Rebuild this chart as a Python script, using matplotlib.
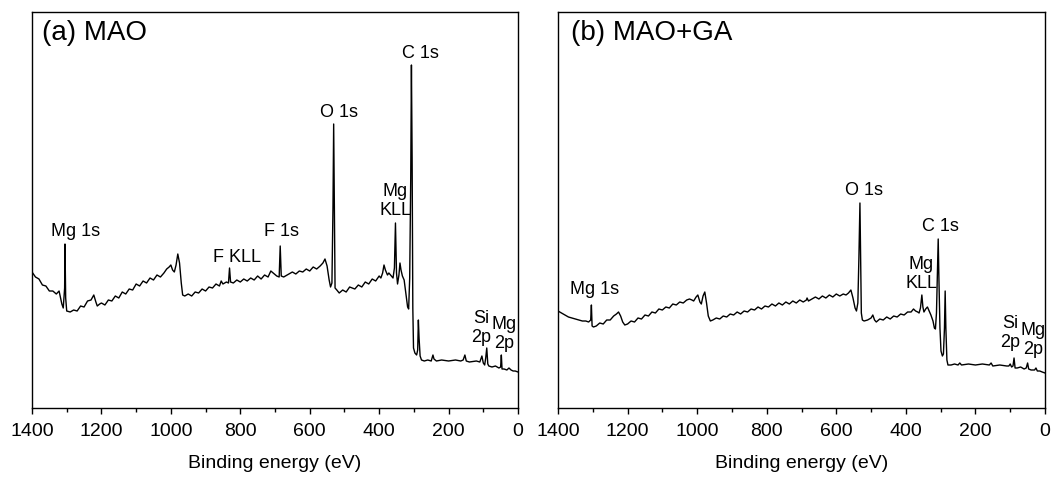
import matplotlib
matplotlib.use("Agg")
from matplotlib import pyplot as plt
from matplotlib.ticker import MultipleLocator

plt.rcParams['font.family'] = ['Liberation Sans', 'DejaVu Sans']

# survey spectrum (a) MAO : binding energy (eV), intensity (a.u.)
energy_a = [1400, 1390, 1380, 1370, 1360, 1350, 1340, 1330, 1322, 1314, 1310, 1306,
            1305, 1303, 1300, 1290, 1280, 1270, 1260, 1250, 1240, 1230, 1222, 1216,
            1212, 1205, 1200, 1190, 1180, 1170, 1160, 1150, 1140, 1130, 1120, 1110,
            1100, 1090, 1080, 1070, 1060, 1050, 1040, 1030, 1020, 1012, 1005, 1000,
            995, 990, 985, 980, 975, 970, 966, 960, 950, 940, 930, 920, 910, 900,
            890, 880, 870, 860, 855, 850, 840, 834, 831, 828, 820, 810, 800, 790,
            780, 770, 760, 750, 740, 730, 720, 712, 705, 695, 688, 685, 682, 675,
            665, 650, 640, 630, 620, 610, 600, 590, 580, 570, 562, 556, 550, 544,
            540, 536, 533, 531, 529, 527, 522, 515, 505, 495, 485, 470, 460, 450,
            440, 430, 420, 410, 400, 395, 390, 386, 382, 376, 372, 365, 360, 356,
            353, 350, 347, 343, 340, 337, 333, 328, 322, 318, 315, 312, 309, 307,
            305, 303, 301, 297, 292, 289, 287, 285, 282, 278, 270, 260, 250, 245,
            242, 235, 220, 200, 180, 165, 158, 153, 149, 140, 120, 110, 104, 100,
            96, 93, 90, 87, 84, 75, 65, 55, 50, 48, 46, 40, 32, 26, 20, 14, 8, 0]
counts_a = [136, 131, 129, 123, 122, 117, 117, 114, 117, 104, 100, 120,
            164, 110, 97, 96, 98, 97, 102, 101, 107, 108, 113, 106,
            102, 104, 105, 103, 108, 107, 112, 110, 116, 114, 119, 118,
            124, 122, 127, 125, 130, 128, 133, 131, 135, 139, 141, 143,
            138, 136, 143, 154, 145, 125, 113, 112, 114, 112, 116, 115, 119, 117,
            121, 120, 124, 122, 127, 124, 126, 125, 140, 126, 125, 128, 126, 129,
            127, 130, 128, 132, 129, 133, 131, 137, 135, 132, 131, 162, 132, 131,
            133, 136, 134, 137, 136, 139, 137, 141, 139, 142, 145, 149, 142, 128,
            121, 125, 200, 284, 200, 120, 118, 115, 118, 116, 121, 119, 123, 121,
            126, 124, 129, 127, 132, 130, 135, 143, 138, 133, 135, 132, 130, 140,
            185, 135, 124, 133, 145, 138, 132, 128, 112, 101, 99, 130, 230, 343,
            250, 100, 60, 55, 53, 58, 88, 70, 52, 48, 47, 48, 47, 53,
            49, 47, 48, 47, 48, 47, 48, 53, 47, 46, 47, 46, 52, 45,
            43, 50, 60, 44, 42, 41, 42, 40, 41, 53, 39, 39, 38, 40, 38, 37, 37, 36]

# survey spectrum (b) MAO+GA
energy_b = [1400, 1390, 1380, 1370, 1360, 1350, 1340, 1330, 1320, 1312, 1306, 1304,
            1302, 1298, 1290, 1280, 1270, 1260, 1250, 1240, 1232, 1226, 1220, 1214,
            1208, 1200, 1190, 1180, 1170, 1160, 1150, 1140, 1130, 1120, 1110, 1100,
            1090, 1080, 1070, 1060, 1050, 1040, 1030, 1022, 1015, 1010, 1003, 998,
            992, 988, 983, 978, 973, 968, 962, 955, 945, 935, 925, 915, 905, 895,
            885, 875, 865, 855, 845, 835, 825, 815, 805, 795, 785, 775, 765, 755,
            745, 735, 725, 715, 705, 695, 686, 684, 680, 670, 660, 650, 640, 630,
            620, 610, 600, 590, 580, 572, 565, 558, 552, 546, 542, 538, 535, 532,
            530, 528, 525, 520, 510, 500, 495, 490, 485, 475, 465, 455, 445, 435,
            425, 415, 405, 395, 385, 378, 372, 366, 362, 358, 354, 351, 348, 343,
            338, 333, 328, 322, 318, 315, 312, 309, 307, 305, 302, 299, 295, 292,
            289, 287, 285, 282, 279, 270, 260, 250, 245, 240, 220, 200, 180, 160,
            155, 150, 130, 110, 104, 100, 96, 92, 89, 86, 80, 70, 60, 54, 50, 47,
            40, 30, 26, 22, 15, 8, 0]
counts_b = [97, 95, 93, 91, 90, 89, 88, 87, 87, 86, 88, 103,
            82, 81, 82, 85, 84, 88, 88, 92, 94, 96, 92, 86,
            83, 84, 87, 86, 90, 89, 93, 92, 96, 95, 99, 98,
            101, 100, 104, 103, 106, 105, 108, 109, 108, 107, 111, 113,
            106, 104, 112, 116, 105, 92, 87, 88, 90, 89, 92, 91, 94, 93,
            96, 94, 97, 96, 99, 98, 101, 99, 102, 101, 104, 102, 105, 103,
            106, 104, 107, 105, 108, 106, 108, 110, 107, 109, 111, 109, 112, 110,
            113, 111, 114, 112, 114, 113, 115, 118, 110, 100, 97, 105, 150, 205,
            150, 95, 88, 87, 88, 90, 93, 88, 86, 89, 88, 91, 89, 92,
            91, 94, 93, 96, 96, 99, 97, 96, 95, 100, 113, 101, 96, 99,
            101, 97, 93, 87, 80, 79, 95, 140, 169, 130, 80, 57, 52, 54,
            80, 117, 80, 48, 43, 43, 44, 43, 45, 43, 44, 43, 44, 43,
            45, 42, 43, 42, 42, 44, 41, 42, 50, 40, 40, 41, 39, 40, 45, 39,
            38, 38, 40, 37, 37, 36, 35]

# peak labels: text, energy, intensity
labels_a = [("Mg 1s", 1274, 176), ("F KLL", 810, 150), ("F 1s", 682, 176),
            ("O 1s", 516, 295), ("Mg\nKLL", 353, 207), ("C 1s", 282, 354),
            ("Si\n2p", 107, 80), ("Mg\n2p", 39, 74)]
labels_b = [("Mg 1s", 1294, 118), ("O 1s", 519, 217), ("Mg\nKLL", 355, 134),
            ("C 1s", 301, 181), ("Si\n2p", 100, 75), ("Mg\n2p", 34, 68)]

fig = plt.figure(figsize=(10.53, 4.79), dpi=100)
ax_a = fig.add_axes([32 / 1053, 1 - 408 / 479, 486 / 1053, 396 / 479])
ax_b = fig.add_axes([558 / 1053, 1 - 408 / 479, 487 / 1053, 396 / 479])

panels = [(ax_a, energy_a, counts_a, labels_a, "(a) MAO", 0.021),
          (ax_b, energy_b, counts_b, labels_b, "(b) MAO+GA", 0.026)]

for ax, en, ct, labs, title, tx in panels:
    ax.plot(en, ct, color="black", lw=1.0)
    ax.set_xlim(1400, 0)
    ax.set_ylim(0, 396)
    ax.set_yticks([])
    ax.xaxis.set_major_locator(MultipleLocator(200))
    ax.xaxis.set_minor_locator(MultipleLocator(100))
    ax.tick_params(axis="x", which="major", direction="out", length=4.5,
                   width=1.0, labelsize=14, pad=6)
    ax.tick_params(axis="x", which="minor", direction="out", length=3, width=1.0)
    for sp in ax.spines.values():
        sp.set_linewidth(1.0)
    ax.set_xlabel("Binding energy (eV)", fontsize=14, labelpad=11)
    ax.text(tx, 0.947, title, transform=ax.transAxes, fontsize=20,
            ha="left", va="center")
    for txt, x, y in labs:
        ax.text(x, y, txt, fontsize=13, ha="center", va="center",
                linespacing=1.1)

fig.savefig("out.png", dpi=100)
